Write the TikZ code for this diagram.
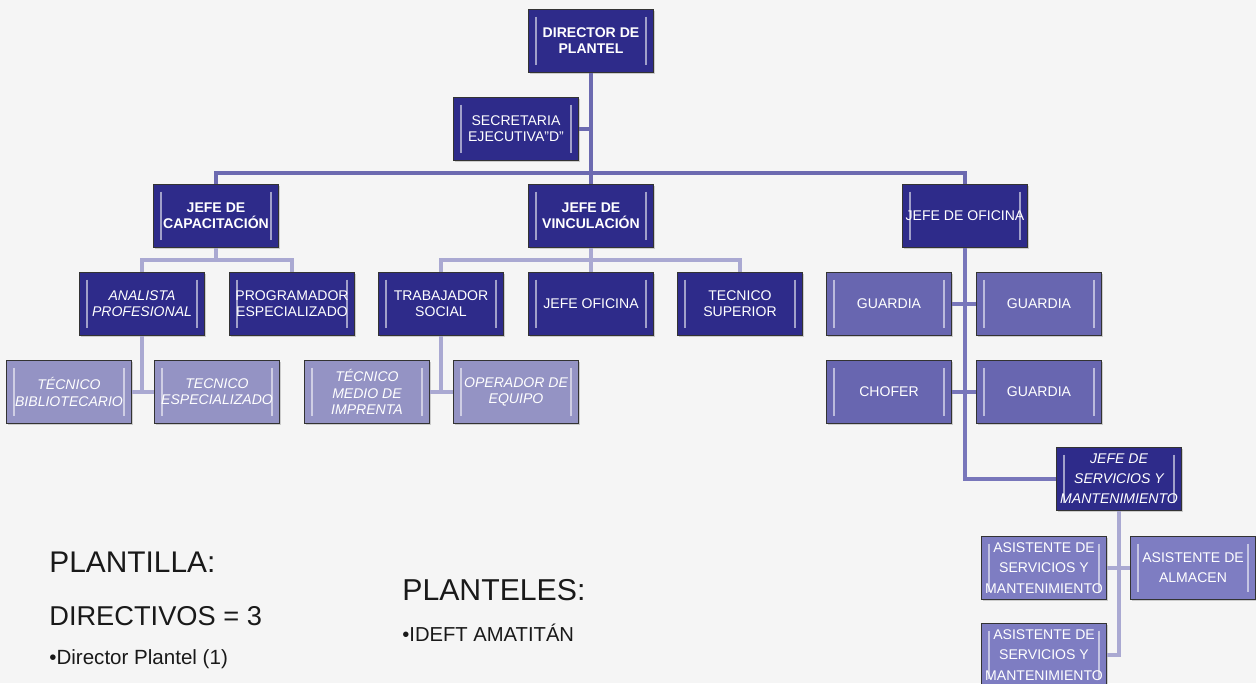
\documentclass[tikz,border=0pt]{standalone}
\usepackage{fontspec}
\setmainfont{Liberation Sans}
\usetikzlibrary{shadows}

\definecolor{fondo}{RGB}{245,245,245}
\definecolor{oscuro}{RGB}{46,43,138}
\definecolor{medio}{RGB}{104,102,176}
\definecolor{suave}{RGB}{126,125,194}
\definecolor{claro}{RGB}{148,147,196}
\definecolor{lineaA}{RGB}{108,106,176}
\definecolor{lineaB}{RGB}{120,118,186}
\definecolor{lineaC}{RGB}{170,169,210}

\newcommand{\cajafont}{\fontsize{8}{9.2}\selectfont}
\newcommand{\altafont}{\fontsize{8}{11.5}\selectfont}

\tikzset{
  puesto/.style={draw=black!80, line width=0.6pt, fill=#1, text=white,
    minimum width=2.5cm, minimum height=1.26cm, inner sep=0pt, align=center,
    font=\cajafont,
    drop shadow={shadow xshift=0.8pt, shadow yshift=-0.8pt, opacity=0.35},
    path picture={
      \draw[#1!45!white, line width=1.1pt]
        ([xshift=4.5pt,yshift=-4pt]path picture bounding box.north west) --
        ([xshift=4.5pt,yshift=4pt]path picture bounding box.south west);
      \draw[#1!45!white, line width=1.1pt]
        ([xshift=-4.5pt,yshift=-4pt]path picture bounding box.north east) --
        ([xshift=-4.5pt,yshift=4pt]path picture bounding box.south east);}},
  jefe/.style={puesto=oscuro, font=\cajafont\bfseries},
  cursiva/.style={puesto=#1, font=\cajafont\itshape},
  enlace/.style={draw=lineaA, line width=2pt},
  enlaceof/.style={draw=lineaB, line width=1.8pt},
  subenlace/.style={draw=lineaC, line width=1.8pt},
  leyenda/.style={anchor=base west, inner sep=0pt, text=black!90}
}

\begin{document}
\begin{tikzpicture}[x=0.02cm, y=-0.02cm]
    \useasboundingbox (0,0) rectangle (1256,683);
    \clip (0,0) rectangle (1256,683);
    \fill[fondo] (0,0) rectangle (1256,683);

    \node[jefe] (dir) at (591,41) {DIRECTOR DE\\PLANTEL};
    \node[puesto=oscuro] (sec) at (516,129) {SECRETARIA\\EJECUTIVA"D"};
    \node[jefe] (cap) at (216,216) {JEFE DE\\CAPACITACIÓN};
    \node[jefe] (vin) at (591,216) {JEFE DE\\VINCULACIÓN};
    \node[puesto=oscuro] (ofi) at (965,216) {JEFE DE OFICINA};

    \node[cursiva=oscuro] (ana) at (142,304) {ANALISTA\\PROFESIONAL};
    \node[puesto=oscuro] (pro) at (292,304) {PROGRAMADOR\\ESPECIALIZADO};
    \node[puesto=oscuro] (tra) at (441,304) {TRABAJADOR\\SOCIAL};
    \node[puesto=oscuro] (jof) at (591,304) {JEFE OFICINA};
    \node[puesto=oscuro] (tsu) at (740,304) {TECNICO\\SUPERIOR};

    \node[cursiva=claro] (bib) at (69,392) {TÉCNICO\\BIBLIOTECARIO};
    \node[cursiva=claro] (esp) at (217,392) {TECNICO\\ESPECIALIZADO};
    \node[cursiva=claro] (imp) at (367,392) {TÉCNICO\\MEDIO DE\\IMPRENTA};
    \node[cursiva=claro] (ope) at (516,392) {OPERADOR DE\\EQUIPO};

    \node[puesto=medio] (gu1) at (889,304) {GUARDIA};
    \node[puesto=medio] (gu2) at (1039,304) {GUARDIA};
    \node[puesto=medio] (cho) at (889,392) {CHOFER};
    \node[puesto=medio] (gu3) at (1039,392) {GUARDIA};

    \node[cursiva=oscuro, font=\altafont\itshape] (jsm) at (1119,479) {JEFE DE\\SERVICIOS Y\\MANTENIMIENTO};
    \node[puesto=suave, font=\altafont] (as1) at (1044,568) {ASISTENTE DE\\SERVICIOS Y\\MANTENIMIENTO};
    \node[puesto=suave, font=\altafont] (alm) at (1193,568) {ASISTENTE DE\\ALMACEN};
    \node[puesto=suave, font=\altafont] (as2) at (1044,655) {ASISTENTE DE\\SERVICIOS Y\\MANTENIMIENTO};

    \coordinate (bus) at (591,173);
    \coordinate (capbus) at (216,260);
    \coordinate (vinbus) at (591,260);

    \draw[enlace] (dir) -- (vin);
    \draw[enlace] (sec.east) -- (sec.east -| dir.south);
    \draw[enlace] (cap.north) |- (bus) -| (ofi.north);

    \draw[subenlace] (cap) -- (capbus);
    \draw[subenlace] (ana.north) |- (capbus) -| (pro.north);
    \draw[subenlace] (vin) -- (jof);
    \draw[subenlace] (tra.north) |- (vinbus) -| (tsu.north);
    \draw[subenlace] (ana.south) |- (bib.east) -- (esp.west);
    \draw[subenlace] (tra.south) |- (imp.east) -- (ope.west);

    \draw[enlaceof] (ofi.south) |- (jsm.west);
    \draw[enlaceof] (gu1) -- (gu2);
    \draw[enlaceof] (cho) -- (gu3);
    \draw[subenlace] (jsm.south) |- (as2.east);
    \draw[subenlace] (as1) -- (alm);

    \node[leyenda, font=\fontsize{17}{20}\selectfont] (plantilla) at (49,572) {PLANTILLA:};
    \node[leyenda, font=\fontsize{15.5}{18}\selectfont] (directivos) at (49,625) {DIRECTIVOS = 3};
    \node[leyenda, font=\fontsize{11.7}{14}\selectfont] (dirplantel) at (49,664) {•Director Plantel (1)};
    \node[leyenda, font=\fontsize{17.2}{20}\selectfont] (planteles) at (402,600) {PLANTELES:};
    \node[leyenda, font=\fontsize{11.5}{14}\selectfont] (amatitan) at (402,641) {•IDEFT AMATITÁN};
\end{tikzpicture}
\end{document}
